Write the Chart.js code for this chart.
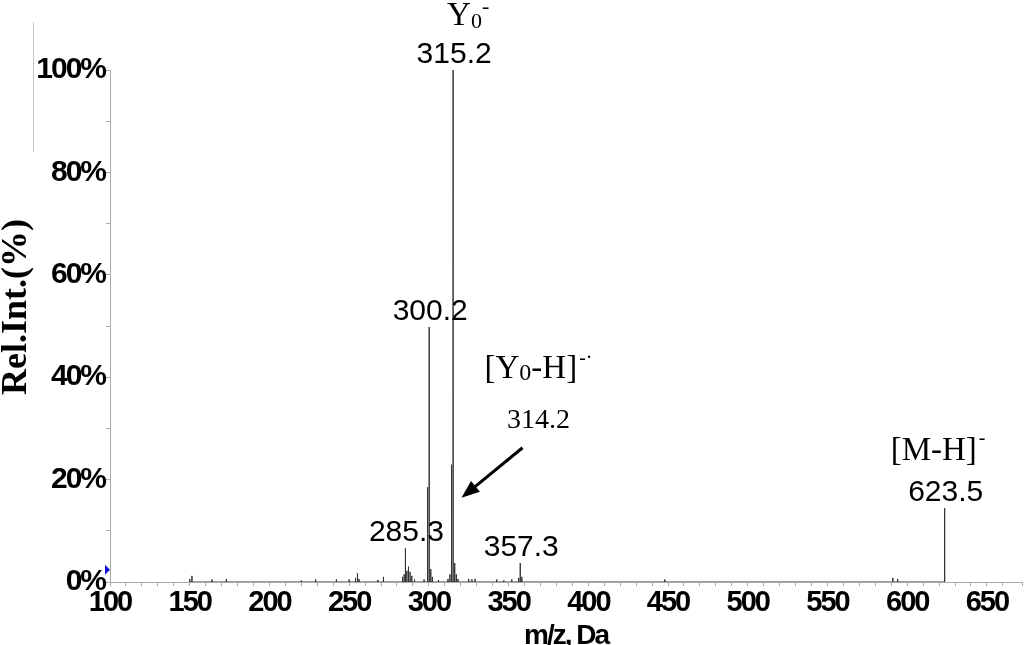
<!DOCTYPE html>
<html>
<head>
<meta charset="utf-8">
<script src="https://cdn.jsdelivr.net/npm/chart.js@4/dist/chart.umd.min.js"></script>
<style>
    html, body { margin: 0; padding: 0; background: #fff; }
    #wrap { width: 1024px; height: 645px; position: relative; }
</style>
</head>
<body>
<div id="wrap"><canvas id="chart-espectro"></canvas></div>
<script>
// Picos del espectro: m/z (Da) e intensidad relativa (%)
const mzPicos = [
    150.0, 151.4, 164.0, 173.0, 220.0, 229.0, 242.0, 250.0, 254.0, 255.2,
    256.2, 268.0, 271.5, 283.5, 284.5, 285.3, 286.2, 287.2, 288.2, 289.3,
    291.0, 297.0, 299.2, 300.2, 301.2, 302.2, 306.0, 312.0, 313.2, 314.2,
    315.2, 316.2, 317.2, 318.2, 325.0, 327.0, 329.0, 342.6, 347.0, 352.0,
    356.3, 357.3, 358.3, 448.0, 591.0, 594.0, 623.5
];
const intensidades = [
    0.6, 1.2, 0.5, 0.6, 0.3, 0.5, 0.5, 0.5, 0.8, 1.7,
    0.6, 0.4, 1.0, 1.0, 1.5, 6.6, 2.2, 3.0, 2.0, 1.2,
    0.5, 0.5, 18.5, 49.8, 2.5, 1.0, 0.4, 0.6, 1.5, 22.9,
    100, 3.7, 1.5, 0.6, 0.6, 0.5, 0.6, 0.5, 0.3, 0.5,
    0.8, 3.7, 1.0, 0.5, 0.8, 0.6, 14.4
];

// Ticks de los ejes
const ticksMz = [100, 150, 200, 250, 300, 350, 400, 450, 500, 550, 600, 650];
const ticksInt = [0, 20, 40, 60, 80, 100];

// Etiquetas numéricas sobre los picos
const etiquetasMz = [315.2, 300.2, 285.3, 357.3, 623.5];

// Cada pico como palito vertical: (mz,0) -> (mz,h) -> (mz,0)
const puntos = [];
mzPicos.forEach((mz, i) => {
    puntos.push({ x: mz, y: 0 }, { x: mz, y: intensidades[i] }, { x: mz, y: 0 });
});

function alturaDe(mz) {
    return intensidades[mzPicos.indexOf(mz)];
}

const SERIF = '"Liberation Serif", "Times New Roman", serif';
const SANS = '"Liberation Sans", Arial, sans-serif';

/**
 * Dibuja texto con subíndices / superíndices (segmentos)
 */
function textoRico(ctx, x, y, segmentos) {
    let cx = x;
    segmentos.forEach(s => {
        ctx.font = `${s.size}px ${SERIF}`;
        ctx.fillText(s.t, cx, y + (s.dy || 0));
        cx += ctx.measureText(s.t).width + (s.gap || 0);
    });
}

// Letras apretadas en los ticks, como en el original
const espaciado = {
    id: 'espaciado',
    beforeDraw(chart) {
        chart.ctx.letterSpacing = '-2px';
    }
};

const anotaciones = {
    id: 'anotaciones',
    afterDatasetsDraw(chart) {
        const { ctx, scales: { x, y } } = chart;
        ctx.save();
        ctx.letterSpacing = '0px';
        ctx.fillStyle = '#000';
        ctx.textBaseline = 'alphabetic';

        // valores m/z en Arial
        ctx.textAlign = 'center';
        ctx.font = `30px ${SANS}`;
        etiquetasMz.forEach(mz => {
            const px = x.getPixelForValue(mz);
            const py = y.getPixelForValue(alturaDe(mz));
            ctx.fillText(mz.toFixed(1), px + 1, py - 7);
        });

        ctx.textAlign = 'left';
        // Y0-
        let px = x.getPixelForValue(315.2);
        let py = y.getPixelForValue(100);
        textoRico(ctx, px - 6, py - 45, [
            { t: 'Y', size: 33 },
            { t: '0', size: 22, dy: 3 },
            { t: '-', size: 22, dy: -12 }
        ]);

        // [Y0-H]-· y 314.2 con flecha
        px = x.getPixelForValue(314.2);
        py = y.getPixelForValue(alturaDe(314.2));
        textoRico(ctx, px + 33, py - 87, [
            { t: '[Y', size: 33 },
            { t: '0', size: 24, dy: 2 },
            { t: '-H]', size: 33, gap: 2 },
            { t: '-·', size: 20, dy: -14 }
        ]);
        ctx.textAlign = 'center';
        ctx.font = `28px ${SERIF}`;
        ctx.fillText('314.2', px + 87, py - 37);

        const tipX = px + 10, tipY = py + 33;
        const tailX = px + 71, tailY = py - 17;
        const ang = Math.atan2(tipY - tailY, tipX - tailX);
        ctx.strokeStyle = '#000';
        ctx.lineWidth = 3;
        ctx.beginPath();
        ctx.moveTo(tailX, tailY);
        ctx.lineTo(tipX - 14 * Math.cos(ang), tipY - 14 * Math.sin(ang));
        ctx.stroke();
        ctx.beginPath();
        ctx.moveTo(tipX, tipY);
        ctx.lineTo(tipX - 18 * Math.cos(ang) + 7 * Math.sin(ang), tipY - 18 * Math.sin(ang) - 7 * Math.cos(ang));
        ctx.lineTo(tipX - 18 * Math.cos(ang) - 7 * Math.sin(ang), tipY - 18 * Math.sin(ang) + 7 * Math.cos(ang));
        ctx.closePath();
        ctx.fill();

        // [M-H]-
        ctx.textAlign = 'left';
        px = x.getPixelForValue(623.5);
        py = y.getPixelForValue(alturaDe(623.5));
        textoRico(ctx, px - 54, py - 48, [
            { t: '[M-H]', size: 33, gap: 2 },
            { t: '-', size: 20, dy: -16 }
        ]);

        // título del eje y (un poco por encima del centro, como en el original)
        ctx.save();
        ctx.translate(17, 307);
        ctx.rotate(-Math.PI / 2);
        ctx.textAlign = 'center';
        ctx.textBaseline = 'middle';
        ctx.font = `bold 36px ${SERIF}`;
        ctx.fillText('Rel.Int.(%)', 0, 0);
        ctx.restore();

        // marcador azul en el eje y
        const ax = chart.chartArea.left;
        const my = y.getPixelForValue(2.4);
        ctx.fillStyle = '#1010e0';
        ctx.beginPath();
        ctx.moveTo(ax - 5, my - 5);
        ctx.lineTo(ax, my);
        ctx.lineTo(ax - 5, my + 5);
        ctx.closePath();
        ctx.fill();

        // línea gris suelta arriba a la izquierda
        ctx.strokeStyle = '#c8c8c8';
        ctx.lineWidth = 1;
        ctx.beginPath();
        ctx.moveTo(33.5, 22);
        ctx.lineTo(33.5, 152);
        ctx.stroke();

        ctx.restore();
    }
};

const fuenteTicks = { family: SANS, size: 29, weight: 'bold' };

new Chart(document.getElementById('chart-espectro'), {
    type: 'line',
    data: {
        datasets: [{
            data: puntos,
            borderColor: '#333',
            borderWidth: 1,
            pointRadius: 0,
            tension: 0,
            fill: false
        }]
    },
    options: {
        responsive: true,
        maintainAspectRatio: false,
        animation: false,
        events: [],
        layout: { padding: { top: 70, right: 2, left: 0, bottom: 0 } },
        plugins: {
            legend: { display: false },
            tooltip: { enabled: false }
        },
        scales: {
            x: {
                type: 'linear',
                min: 100,
                max: 672,
                afterFit: scale => { scale.height = 63; },
                border: { color: '#aaa', width: 1 },
                grid: { drawOnChartArea: false, tickLength: 4, tickColor: '#aaa' },
                ticks: {
                    stepSize: 10,
                    autoSkip: false,
                    maxRotation: 0,
                    padding: 0,
                    color: '#000',
                    font: fuenteTicks,
                    callback: v => ticksMz.includes(v) ? String(v) : ''
                },
                title: {
                    display: true,
                    text: 'm/z, Da',
                    color: '#000',
                    padding: { top: 0, bottom: -5 },
                    font: { family: SANS, size: 28, weight: 'bold', lineHeight: 1 }
                }
            },
            y: {
                min: 0,
                max: 100,
                afterFit: scale => { scale.width = 110; },
                border: { color: '#aaa', width: 1 },
                grid: { drawOnChartArea: false, tickLength: 4, tickColor: '#aaa' },
                ticks: {
                    stepSize: 10,
                    autoSkip: false,
                    padding: 1,
                    color: '#000',
                    font: { family: SANS, size: 30, weight: 'bold' },
                    callback: v => ticksInt.includes(v) ? v + '%' : ''
                }
            }
        }
    },
    plugins: [espaciado, anotaciones]
});
</script>
</body>
</html>
